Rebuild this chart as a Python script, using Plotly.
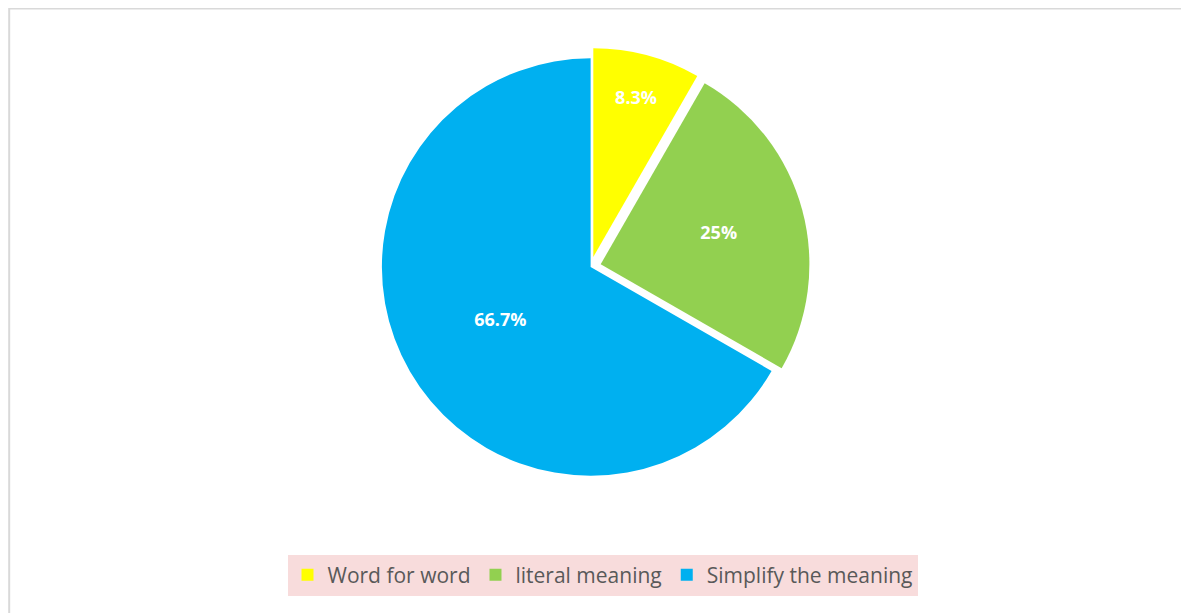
import plotly.graph_objects as go

categories = ["Word for word", "literal meaning", "Simplify the meaning"]
values = [8.3, 25.0, 66.7]
text_labels = ["8.3%", "25%", "66.7%"]
colors = ["#FFFF00", "#92D050", "#00B0F0"]
pulls = [0.05, 0.05, 0.0]

fig = go.Figure()
fig.add_trace(go.Pie(
    labels=categories,
    values=values,
    text=text_labels,
    textinfo="text",
    textposition="inside",
    insidetextorientation="horizontal",
    textfont=dict(family="Open Sans, Liberation Sans, sans-serif", size=18, color="white", weight="bold"),
    marker=dict(colors=colors, line=dict(color="rgba(0,0,0,0)", width=0)),
    sort=False,
    direction="clockwise",
    rotation=0,
    pull=pulls,
    domain=dict(x=[0.2, 0.78], y=[0.22, 0.935]),
    hoverinfo="label+text",
))

fig.update_layout(
    width=1189,
    height=613,
    margin=dict(l=0, r=0, t=0, b=0),
    paper_bgcolor="white",
    plot_bgcolor="white",
    showlegend=True,
    legend=dict(
        orientation="h",
        x=0.5, xanchor="center",
        y=0.075, yanchor="middle",
        bgcolor="#F8DCDC",
        borderwidth=0,
        font=dict(family="Open Sans, Liberation Sans, sans-serif", size=21, color="#595959"),
        itemsizing="constant",
        traceorder="normal",
    ),
    shapes=[dict(type="rect", xref="paper", yref="paper", x0=0.001, y0=0.001, x1=0.999, y1=0.999,
                 line=dict(color="#D9D9D9", width=2), fillcolor="rgba(0,0,0,0)", layer="below")],
)

fig.write_html("out.html")
